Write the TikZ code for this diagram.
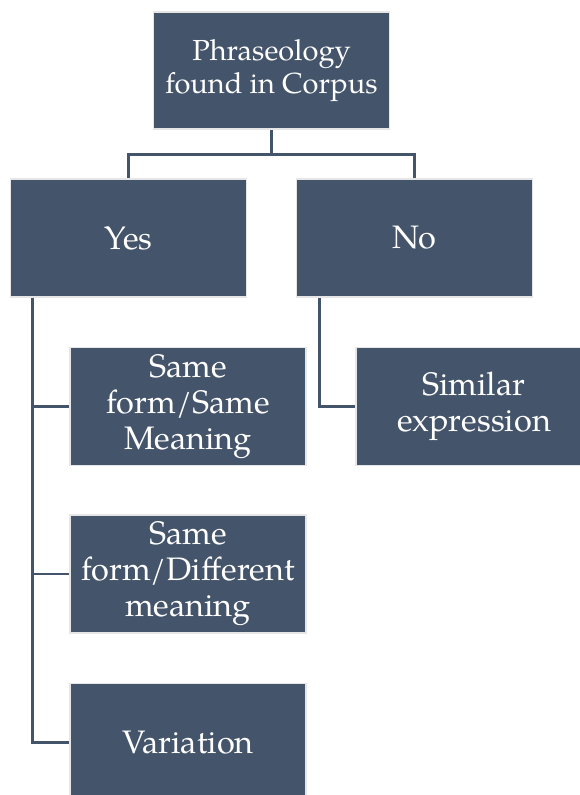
\documentclass[tikz,border=0pt]{standalone}
\usepackage{fontspec}
\setmainfont{TeX Gyre Pagella}
\usepackage{tikz}
\usetikzlibrary{positioning, calc}

\definecolor{slate}{HTML}{44546A}
\definecolor{rim}{HTML}{E7E6E6}

\begin{document}
\begin{tikzpicture}[
  x=1pt, y=-1pt,
  box/.style  = {draw=rim, line width=1.5pt, fill=slate, text=white, align=center,
                 minimum width=236pt, minimum height=117pt, inner sep=0pt,
                 font=\fontsize{32.5}{36}\selectfont},
  link/.style = {draw=slate, line width=2.6pt}
]
  \useasboundingbox (0,0) rectangle (579,795);

  % top of the tree
  \node[box, font=\fontsize{29}{33}\selectfont] (root) at (271.5,70.5) {Phraseology\\found in Corpus};

  % the two answers
  \node[box, minimum height=118pt] (yes) at (128.5,238) {Yes};
  \node[box, minimum height=118pt] (no)  at (414.5,238) {No};

  % children of yes
  \node[box, minimum height=118pt] (same1) at (188,406.5) {Same\\form/Same\\Meaning};
  \node[box, minimum height=118pt] (same2) at (188,574)   {Same\\form/Different\\meaning};
  \node[box, minimum height=118pt] (variation) at (188,742.5) {Variation};

  % child of no, cut by the right edge
  \node[box, minimum height=118pt] (similar) at (474,406.5) {Similar\\expression};

  % root to yes / no
  \draw[link] (root.south) -- ++(0,25) -| (yes.north);
  \draw[link] (root.south) -- ++(0,25) -| (no.north);

  % yes leg
  \coordinate (yesleg) at ($(yes.south west)+(23,0)$);
  \draw[link] (yesleg) |- (same1.west);
  \draw[link] (yesleg) |- (same2.west);
  \draw[link] (yesleg) |- (variation.west);

  % no leg
  \coordinate (noleg) at ($(no.south west)+(24,0)$);
  \draw[link] (noleg) |- (similar.west);

\end{tikzpicture}
\end{document}
